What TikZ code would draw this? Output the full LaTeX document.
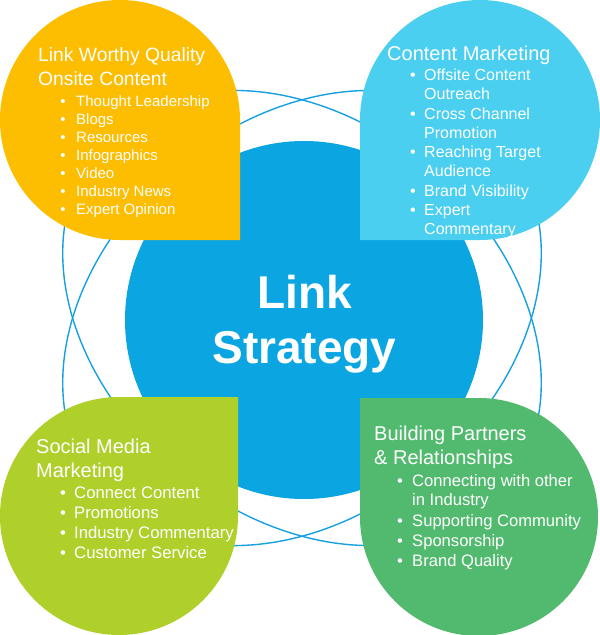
\documentclass[tikz,border=0pt]{standalone}
\usepackage{fontspec}
\setmainfont{Liberation Sans}
\definecolor{cOrange}{RGB}{253,189,0}
\definecolor{cCyan}{RGB}{74,207,240}
\definecolor{cLime}{RGB}{175,207,43}
\definecolor{cGreen}{RGB}{82,186,110}
\definecolor{cCore}{RGB}{11,165,226}
\definecolor{cLine}{RGB}{22,160,225}
\begin{document}
\begin{tikzpicture}[x=1pt,y=-1pt,
  hdr/.style={anchor=base west, text=white, inner sep=0pt, align=left, font=\fontsize{#1}{24}\selectfont},
  itm/.style={anchor=base west, text=white, inner sep=0pt, align=left, font=\fontsize{#1}{19}\selectfont},
  bul/.style={anchor=base, text=white, inner sep=0pt, font=\fontsize{#1}{19}\selectfont},
  orbit/.style={draw=cLine, line width=1.4pt},
  big/.style={anchor=base, text=white, inner sep=0pt, font=\bfseries\fontsize{46}{55}\selectfont}]
\useasboundingbox (0,0) rectangle (600,635);
% orbits
\draw[orbit, rotate around={-40:(302,318)}] (302,318) ellipse [x radius=265, y radius=197];
\draw[orbit, rotate around={40:(302,318)}] (302,318) ellipse [x radius=265, y radius=197];
% core
\node[circle, fill=cCore, minimum size=358pt, inner sep=0pt] (core) at (304,320) {};
\node[big] (core1) at (305,308) {Link};
\node[big] (core2) at (304.5,363) {Strategy};
% petals
\fill[cOrange] (240,120) -- (240,240) -- (120,240) arc[start angle=90, end angle=360, radius=120] -- cycle;
\fill[cCyan] (360,120) -- (360,240) -- (480,240) arc[start angle=90, end angle=-180, radius=120] -- cycle;
\fill[cLime] (119,397) -- (238,397) -- (238,516) arc[start angle=0, end angle=270, radius=119] -- cycle;
\fill[cGreen] (360,517) -- (360,398) -- (479,398) arc[start angle=-90, end angle=180, radius=119] -- cycle;
% orange block (multi-line nodes are placed at the baseline of their last line)
\node[hdr=19.3] (oh) at (38,85.5) {Link Worthy Quality\\Onsite Content};
\foreach \t [count=\i] in {Thought Leadership,Blogs,Resources,Infographics,Video,Industry News,Expert Opinion}{
  \node[bul=15] (ob\i) at (63,{88+18*\i}) {•};
  \node[itm=15] (oi\i) at (76,{88+18*\i}) {\t};
}
% cyan block
\node[hdr=20] (ch) at (387,60) {Content Marketing};
\node[bul=16] (cb1) at (413,80) {•};
\node[itm=16] (ci1) at (424,99) {Offsite Content\\Outreach};
\node[bul=16] (cb2) at (413,119) {•};
\node[itm=16] (ci2) at (424,138) {Cross Channel\\Promotion};
\node[bul=16] (cb3) at (413,157) {•};
\node[itm=16] (ci3) at (424,176) {Reaching Target\\Audience};
\node[bul=16] (cb4) at (413,196) {•};
\node[itm=16] (ci4) at (424,196) {Brand Visibility};
\node[bul=16] (cb5) at (413,215) {•};
\node[itm=16] (ci5) at (424,234) {Expert\\Commentary};
% lime block
\node[hdr=20] (lh) at (36,477.5) {Social Media\\Marketing};
\foreach \t [count=\i] in {Connect Content,Promotions,Industry Commentary,Customer Service}{
  \node[bul=16.7] (lb\i) at (63,{478+20*\i}) {•};
  \node[itm=16.7] (li\i) at (74,{478+20*\i}) {\t};
}
% green block
\node[hdr=20] (gh) at (374,464) {Building Partners\\\& Relationships};
\node[bul=16.6] (gb1) at (400,486) {•};
\node[itm=16.6] (gi1) at (412,505) {Connecting with other\\in Industry};
\node[bul=16.6] (gb2) at (400,526) {•};
\node[itm=16.6] (gi2) at (412,526) {Supporting Community};
\node[bul=16.6] (gb3) at (400,546) {•};
\node[itm=16.6] (gi3) at (412,546) {Sponsorship};
\node[bul=16.6] (gb4) at (400,566) {•};
\node[itm=16.6] (gi4) at (412,566) {Brand Quality};
\end{tikzpicture}
\end{document}
